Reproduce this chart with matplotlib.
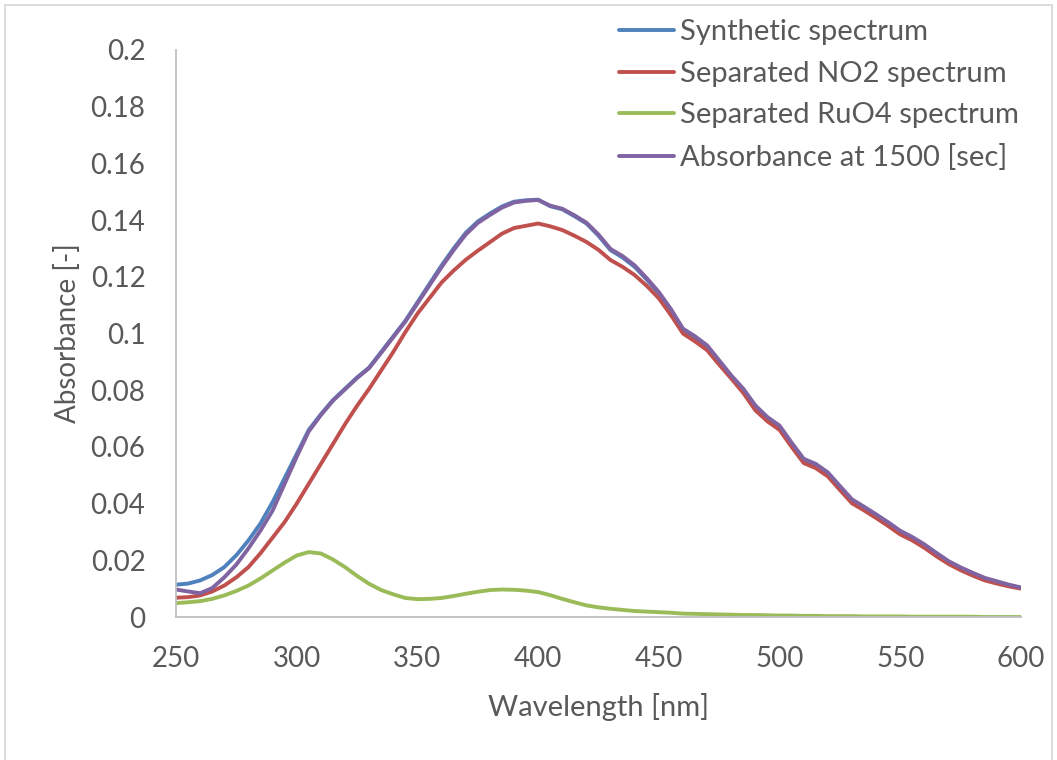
import matplotlib
matplotlib.use("Agg")
import matplotlib.pyplot as plt
from matplotlib.patches import Rectangle
import numpy as np

plt.rcParams['font.family'] = ['Lato', 'DejaVu Sans']

# wavelength grid [nm]
wavelength = list(range(250, 601, 5))

synthetic = [0.0114, 0.0118, 0.0129, 0.0148, 0.0176, 0.0218, 0.0270, 0.0330, 0.0405, 0.0490,
             0.0575, 0.0660, 0.0715, 0.0765, 0.0805, 0.0845, 0.0880, 0.0935, 0.0990, 0.1045,
             0.1110, 0.1175, 0.1240, 0.1300, 0.1355, 0.1395, 0.1423, 0.1448, 0.1465, 0.1470,
             0.1472, 0.1449, 0.1438, 0.1414, 0.1388, 0.1345, 0.1294, 0.1268, 0.1235, 0.1190,
             0.1141, 0.1080, 0.1012, 0.0985, 0.0953, 0.0900, 0.0847, 0.0800, 0.0741, 0.0700,
             0.0670, 0.0610, 0.0553, 0.0535, 0.0506, 0.0458, 0.0411, 0.0385, 0.0358, 0.0330,
             0.0300, 0.0278, 0.0252, 0.0222, 0.0194, 0.0172, 0.0153, 0.0135, 0.0123, 0.0112,
             0.0103]

no2 = [0.0068, 0.0070, 0.0076, 0.0090, 0.0111, 0.0140, 0.0176, 0.0225, 0.0280, 0.0335,
       0.0400, 0.0470, 0.0540, 0.0610, 0.0680, 0.0745, 0.0805, 0.0870, 0.0935, 0.1005,
       0.1070, 0.1125, 0.1180, 0.1222, 0.1260, 0.1292, 0.1322, 0.1352, 0.1372, 0.1380,
       0.1388, 0.1378, 0.1365, 0.1345, 0.1323, 0.1295, 0.1259, 0.1235, 0.1206, 0.1168,
       0.1124, 0.1065, 0.1000, 0.0972, 0.0941, 0.0890, 0.0841, 0.0790, 0.0729, 0.0690,
       0.0660, 0.0600, 0.0543, 0.0525, 0.0496, 0.0448, 0.0401, 0.0376, 0.0349, 0.0321,
       0.0291, 0.0270, 0.0244, 0.0214, 0.0187, 0.0165, 0.0146, 0.0129, 0.0118, 0.0108,
       0.0100]

ruo4 = [0.0049, 0.0052, 0.0056, 0.0064, 0.0076, 0.0092, 0.0111, 0.0136, 0.0164, 0.0192,
        0.0217, 0.0229, 0.0224, 0.0203, 0.0176, 0.0145, 0.0117, 0.0095, 0.0080, 0.0067,
        0.0063, 0.0064, 0.0067, 0.0074, 0.0082, 0.0089, 0.0095, 0.0097, 0.0096, 0.0093,
        0.0088, 0.0077, 0.0064, 0.0052, 0.0041, 0.0034, 0.0029, 0.0025, 0.0021, 0.0019,
        0.0017, 0.0015, 0.0012, 0.0011, 0.0010, 0.0009, 0.0008, 0.0007, 0.0007, 0.0006,
        0.0005, 0.0005, 0.0004, 0.0004, 0.0003, 0.0003, 0.0003, 0.0002, 0.0002, 0.0002,
        0.0002, 0.0001, 0.0001, 0.0001, 0.0001, 0.0001, 0.0001, 0.0000, 0.0000, 0.0000,
        0.0000]

absorbance_1500 = [0.0097, 0.0090, 0.0084, 0.0102, 0.0140, 0.0185, 0.0242, 0.0305, 0.0375, 0.0470,
                   0.0565, 0.0655, 0.0712, 0.0763, 0.0803, 0.0843, 0.0878, 0.0932, 0.0987, 0.1042,
                   0.1106, 0.1170, 0.1234, 0.1294, 0.1349, 0.1390, 0.1418, 0.1444, 0.1462, 0.1468,
                   0.1471, 0.1451, 0.1440, 0.1417, 0.1391, 0.1349, 0.1298, 0.1273, 0.1240, 0.1195,
                   0.1146, 0.1086, 0.1017, 0.0990, 0.0958, 0.0905, 0.0852, 0.0805, 0.0746, 0.0705,
                   0.0675, 0.0615, 0.0558, 0.0540, 0.0510, 0.0462, 0.0415, 0.0389, 0.0362, 0.0334,
                   0.0304, 0.0282, 0.0256, 0.0226, 0.0197, 0.0175, 0.0156, 0.0138, 0.0126, 0.0114,
                   0.0104]

labels = ["Synthetic spectrum", "Separated NO2 spectrum",
          "Separated RuO4 spectrum", "Absorbance at 1500 [sec]"]
colors = ["#4F81BD", "#C0504D", "#9BBB59", "#8064A2"]

txt = "#595959"
grey = "#BFBFBF"
fs = 20

fig = plt.figure(figsize=(10.57, 7.6), dpi=100)
ax = fig.add_axes([176/1057, 143/760, 845/1057, 567/760])

for y, lab, c in zip([synthetic, no2, ruo4, absorbance_1500], labels, colors):
    ax.plot(wavelength, y, color=c, linewidth=2.8, label=lab, solid_capstyle='round')

ax.set_xlim(250, 600)
ax.set_ylim(0, 0.2)
ax.set_xticks(np.arange(250, 601, 50))
ax.set_yticks(np.arange(0, 0.201, 0.02))
ax.set_yticklabels(["0", "0.02", "0.04", "0.06", "0.08", "0.1",
                    "0.12", "0.14", "0.16", "0.18", "0.2"])

for s in ["top", "right"]:
    ax.spines[s].set_visible(False)
for s in ["left", "bottom"]:
    ax.spines[s].set_color(grey)
    ax.spines[s].set_linewidth(1.3)

ax.tick_params(length=0, labelsize=fs, colors=txt)
ax.tick_params(axis='y', pad=22)
ax.tick_params(axis='x', pad=21)

ax.set_xlabel("Wavelength [nm]", fontsize=21, color=txt, labelpad=15)
ax.set_ylabel("Absorbance [-]", fontsize=fs, color=txt, labelpad=7)

fig.legend(loc="upper left", bbox_to_anchor=(619/1057, 1 - 19/760), frameon=False,
           fontsize=21, labelcolor=txt, handlelength=1.9, handletextpad=0.2,
           labelspacing=0.54, borderaxespad=0, borderpad=0)

# chart area border
fig.patches.append(Rectangle((5/1057, -0.01), 1047/1057, 1 - 5/760 + 0.01,
                             transform=fig.transFigure, fill=False,
                             edgecolor="#D9D9D9", linewidth=1.3))

plt.savefig("out.png", dpi=100)
